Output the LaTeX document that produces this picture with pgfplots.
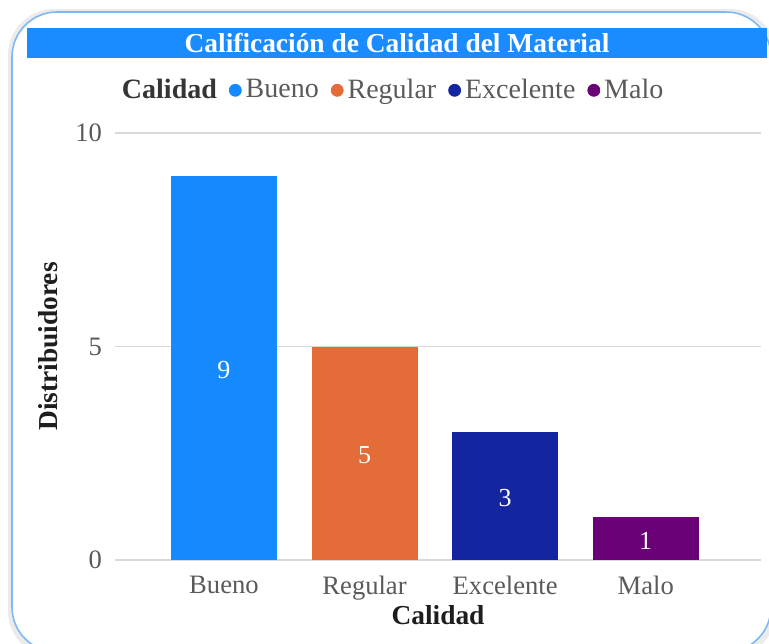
\documentclass[border=0pt]{standalone}
\usepackage{fontspec}
\setmainfont{Liberation Serif}
\usepackage{pgfplots}
\pgfplotsset{compat=1.18}

\definecolor{cBueno}{HTML}{1589FE}
\definecolor{cRegular}{HTML}{E46C38}
\definecolor{cExc}{HTML}{13259F}
\definecolor{cMalo}{HTML}{6A0177}
\definecolor{frameblue}{HTML}{7DB9F5}
\definecolor{titlebar}{HTML}{1A8CFF}
\definecolor{gridgray}{HTML}{D9D9D9}
\definecolor{tickgray}{HTML}{5A5A5A}
\definecolor{labelblack}{HTML}{1E1E1E}

\begin{document}
\begin{tikzpicture}
\useasboundingbox (0,0) rectangle (384.5pt,-321.5pt);
\clip (0,0) rectangle (384.5pt,-321.5pt);
% card background and title bar (1px = 0.5pt)
\fill[black!8, rounded corners=23pt] (4pt,-4.5pt) rectangle (388pt,-328.5pt);
\fill[white, draw=frameblue, line width=0.8pt, rounded corners=22.5pt] (6pt,-6pt) rectangle (385.5pt,-326pt);
\fill[titlebar] (13.5pt,-14pt) rectangle (383.5pt,-29pt);
\node[text=white, font=\bfseries\fontsize{13.7}{15}\selectfont] at (198.5pt,-21.5pt) {Calificación de Calidad del Material};

\begin{axis}[
    at={(57.5pt,-280pt)}, anchor=south west,
    scale only axis,
    width=323pt, height=213.5pt,
    xmin=-0.775, xmax=3.82,
    ymin=0, ymax=10,
    ybar, bar width=53pt, bar shift=0pt,
    xtick={0,1,2,3},
    xticklabels={Bueno,Regular,Excelente,Malo},
    ytick={0,5,10},
    ymajorgrids,
    grid style={draw=gridgray, line width=0.6pt},
    axis line style={draw=none},
    major tick length=0pt,
    tick label style={font=\fontsize{13.3}{15}\selectfont, text=tickgray},
    /pgf/number format/assume math mode=true,
    yticklabel style={xshift=-3pt},
    xticklabel style={yshift=-4.5pt},
    xlabel={Calidad}, ylabel={Distribuidores},
    every axis x label/.style={at={(axis description cs:0.5,-0.129)}, anchor=center,
        font=\bfseries\fontsize{13.7}{15}\selectfont, text=labelblack},
    every axis y label/.style={at={(axis description cs:-0.104,0.5)}, anchor=center, rotate=90,
        font=\bfseries\fontsize{13.7}{15}\selectfont, text=labelblack},
    visualization depends on={y \as \rawy},
    nodes near coords,
    nodes near coords style={anchor=center, text=white, yshift=-1pt,
        font=\fontsize{13}{14}\selectfont,
        shift={(axis direction cs:0,-\rawy/2)}},
    legend columns=5,
    legend style={at={(axis cs:1.2,11.0)}, anchor=center, draw=none, fill=none,
        font=\fontsize{14}{16}\selectfont, text=tickgray,
        /tikz/every even column/.append style={column sep=4pt}},
]
\addplot[fill=cBueno, draw=none, forget plot] coordinates {(0,9)};
\addplot[fill=cRegular, draw=none, forget plot] coordinates {(1,5)};
\addplot[fill=cExc, draw=none, forget plot] coordinates {(2,3)};
\addplot[fill=cMalo, draw=none, forget plot] coordinates {(3,1)};

\addlegendimage{empty legend}
\addlegendentry{\textcolor{labelblack!90}{\textbf{Calidad}}}
\addlegendimage{legend image code/.code={\fill[cBueno] (0.2cm,0pt) circle (3pt);}}
\addlegendentry{Bueno}
\addlegendimage{legend image code/.code={\fill[cRegular] (0.2cm,0pt) circle (3pt);}}
\addlegendentry{Regular}
\addlegendimage{legend image code/.code={\fill[cExc] (0.2cm,0pt) circle (3pt);}}
\addlegendentry{Excelente}
\addlegendimage{legend image code/.code={\fill[cMalo] (0.2cm,0pt) circle (3pt);}}
\addlegendentry{Malo}
\end{axis}
\end{tikzpicture}
\end{document}
